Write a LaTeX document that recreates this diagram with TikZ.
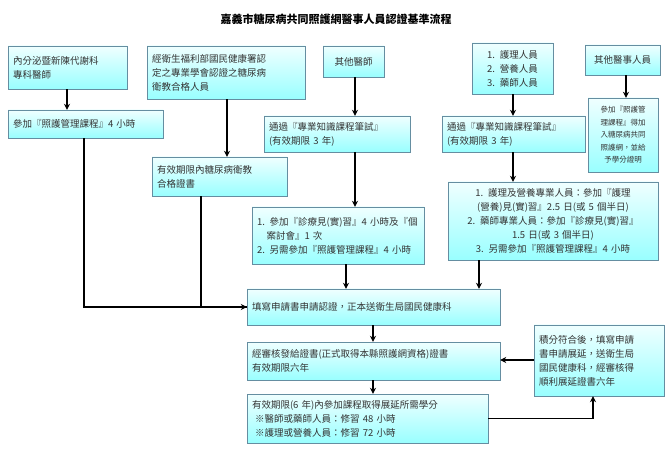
\documentclass[tikz,border=0pt]{standalone}
\usepackage{fontspec}
\setmainfont{Noto Sans CJK TC}
\usetikzlibrary{shadows,arrows.meta}
\tikzset{
 box/.style={draw=black!35!cyan!60!gray, top color=cyan!6, bottom color=cyan!40!white,
   inner xsep=5pt, inner ysep=2pt, font=\fontsize{9.5}{14}\selectfont, text=black!80,
   drop shadow={opacity=0.25,shadow xshift=1pt,shadow yshift=-1pt}},
 arr/.style={line width=1.4pt, -{Stealth[length=6pt,width=6pt]}},
 ln/.style={line width=1.4pt}
}
\newcommand\bx[7]{\node[box,align=#6,text width={\dimexpr #4pt-#2pt-10pt\relax},minimum height={#5pt-#3pt}] (#1) at ({(#2+#4)/2},{(#3+#5)/2}) {#7};}
\begin{document}
\begin{tikzpicture}[x=1pt,y=-1pt]
\useasboundingbox[fill=white] (0,0) rectangle (672,470);
\node[font=\fontsize{11}{13}\selectfont\bfseries] (T) at (336,19) {嘉義市糖尿病共同照護網醫事人員認證基準流程};
\bx{A}{8}{46}{127}{89}{left}{內分泌暨新陳代謝科\\專科醫師}
\bx{B}{8}{110}{163}{138}{left}{參加『照護管理課程』4 小時}
\bx{C}{147}{46}{305}{99}{left}{經衛生福利部國民健康署認\\定之專業學會認證之糖尿病\\衛教合格人員}
\bx{D}{152}{157}{287}{196}{left}{有效期限內糖尿病衛教\\合格證書}
\bx{E}{323}{46}{384}{77}{center}{其他醫師}
\bx{F}{264}{116}{410}{152}{left}{通過『專業知識課程筆試』\\(有效期限 3 年)}
\bx{G}{252}{207}{424}{264}{left}{1. 參加『診療見(實)習』4 小時及『個\\\ \ \ 案討會』1 次\\2. 另需參加『照護管理課程』4 小時}
\bx{H}{472}{43}{553}{94}{center}{1. 護理人員\\2. 營養人員\\3. 藥師人員}
\bx{I}{585}{45}{660}{75}{center}{其他醫事人員}
\bx{J}{442}{116}{585}{152}{left}{通過『專業知識課程筆試』\\(有效期限 3 年)}
\node[box,align=center,text width=60pt,minimum height=74pt,font=\fontsize{7.5}{12.5}\selectfont] (K) at (623,135) {參加『照護管\\理課程』得加\\入糖尿病共同\\照護網，並給\\予學分證明};
\bx{L}{448}{182}{658}{260}{center}{1. 護理及營養專業人員：參加『護理\\(營養)見(實)習』2.5 日(或 5 個半日)\\2. 藥師專業人員：參加『診療見(實)習』\\1.5 日(或 3 個半日)\\3. 另需參加『照護管理課程』4 小時}
\bx{M}{247}{289}{500}{325}{left}{填寫申請書申請認證，正本送衛生局國民健康科}
\bx{N}{247}{342}{500}{380}{left}{經審核發給證書(正式取得本縣照護網資格)證書\\有效期限六年}
\bx{O}{247}{394}{488}{443}{left}{有效期限(6 年)內參加課程取得展延所需學分\\\ ※醫師或藥師人員：修習 48 小時\\\ ※護理或營養人員：修習 72 小時}
\bx{P}{534}{325}{664}{396}{left}{積分符合後，填寫申請\\書申請展延，送衛生局\\國民健康科，經審核得\\順利展延證書六年}
\draw[arr] (A.south -| 67,0) -- (B.north -| 67,0);
\draw[ln] (B.south -| 84,0) |- (M.west);
\draw[arr] (84,307) -- (M.west);
\draw[arr] (C.south -| 227,0) -- (D.north -| 227,0);
\draw[ln] (D.south -| 201,0) -- (201,307);
\draw[arr] (E.south -| 355,0) -- (F.north -| 355,0);
\draw[arr] (F.south -| 355,0) -- (G.north -| 355,0);
\draw[arr] (G.south -| 346,0) -- (M.north -| 346,0);
\draw[arr] (H.south -| 513,0) -- (J.north -| 513,0);
\draw[arr] (J.south -| 513,0) -- (L.north -| 513,0);
\draw[arr] (I.south -| 626,0) -- (K.north -| 626,0);
\draw[arr] (L.south -| 479,0) -- (M.north -| 479,0);
\draw[arr] (M.south -| 373,0) -- (N.north -| 373,0);
\draw[arr] (N.south -| 373,0) -- (O.north -| 373,0);
\draw[arr] (O.east) -| (P.south -| 593,0);
\draw[arr] (P.west |- 0,360) -- (N.east |- 0,360);
\end{tikzpicture}
\end{document}
